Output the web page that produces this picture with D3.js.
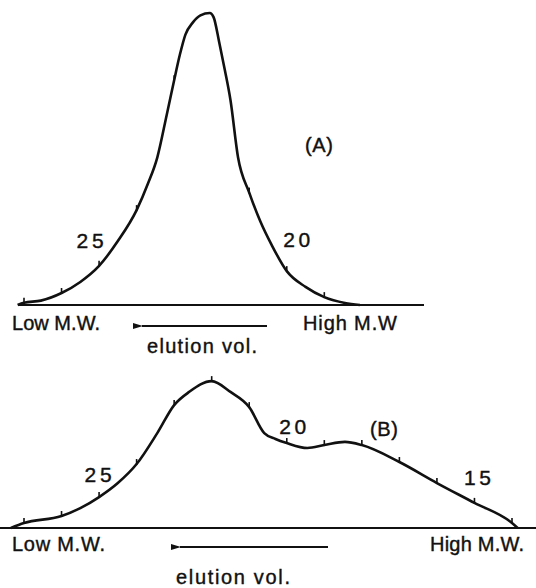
<!DOCTYPE html>
<html>
<head>
<meta charset="utf-8">
<script src="https://cdn.jsdelivr.net/npm/d3@7"></script>
<style>
  html, body { margin: 0; padding: 0; background: #fff; }
  svg { display: block; }
  text { font-family: "Liberation Sans", Arial, sans-serif; fill: #111; stroke: #111; stroke-width: 0.4px; }
</style>
</head>
<body>
<div id="chart"></div>
<script>
// Fraction numbers (x) and relative absorbance (y, peak of A = 100)
const fracA = [27.17, 27, 26.55, 26, 25.5, 25, 24.5, 24, 23.7, 23.45, 23.2, 23, 22.85, 22.7, 22.5, 22.3, 22.05,
  21.95, 21.8, 21.65, 21.5, 21.3, 21, 20.7, 20.4, 20, 19.5, 19, 18.45, 18.05];
const absA = [0, 0.8, 1.5, 4.1, 7.9, 13.4, 21.9, 32.5, 41.5, 50.5, 65, 77, 85.6, 92.6, 96.8, 99.2, 100,
  98.6, 90, 80.5, 70.2, 50.7, 38.5, 28.5, 20.5, 11.6, 6.2, 2.7, 0.7, 0];

const fracB = [27.35, 27, 26, 25.5, 25, 24.5, 24, 23.45, 23, 22.6, 22, 21.5, 21, 20.6, 20.3, 20, 19.45, 19,
  18.45, 18, 17, 16, 15, 14, 13.85];
const absB = [0, 1.7, 4.1, 6.8, 10.6, 15.4, 21.9, 32.5, 42.1, 46.6, 50.3, 46.6, 41.4, 32.5, 30.5, 29.1, 27.4, 28.4,
  29.5, 28.4, 22.6, 15.4, 8.6, 1.7, 0];

// Fractions that carry a number on the curve
const labelFracA = [25, 20];
const labelFracB = [25, 20, 15];

const width = 536, height = 588;

const svg = d3.select("#chart").append("svg")
  .attr("width", width)
  .attr("height", height);

svg.append("rect").attr("width", width).attr("height", height).attr("fill", "#fff");

// Elution runs right to left: high fraction numbers on the left
const x = d3.scaleLinear().domain([27, 14]).range([24, 512]);
const yA = d3.scaleLinear().domain([0, 100]).range([305, 13]);
const yB = d3.scaleLinear().domain([0, 100]).range([528, 236]);

svg.append("defs").append("marker")
  .attr("id", "head")
  .attr("viewBox", "0 0 10 6")
  .attr("refX", 1).attr("refY", 3)
  .attr("markerWidth", 10).attr("markerHeight", 6)
  .attr("markerUnits", "userSpaceOnUse")
  .attr("orient", "auto-start-reverse")
  .append("path")
  .attr("d", "M0,3 L10,0 L10,6 Z")
  .attr("fill", "#111");

/**
 * Draws one elution profile with its baseline, fraction ticks and captions
 */
function drawPanel(frac, abs, y, labelFrac, opt) {
  const data = frac.map((f, i) => ({ f, v: abs[i] }));
  const g = svg.append("g");

  // baseline
  g.append("line")
    .attr("x1", opt.baseX[0]).attr("x2", opt.baseX[1])
    .attr("y1", y(0)).attr("y2", y(0))
    .attr("stroke", "#111").attr("stroke-width", 2);

  const line = d3.line()
    .x(d => x(d.f))
    .y(d => y(d.v))
    .curve(d3.curveMonotoneX);

  g.append("path")
    .datum(data)
    .attr("d", line)
    .attr("fill", "none")
    .attr("stroke", "#111")
    .attr("stroke-width", 2.6)
    .attr("stroke-linejoin", "round");

  // one tick per collected fraction
  data.filter(d => Number.isInteger(d.f)).forEach(d => {
    g.append("line")
      .attr("x1", x(d.f)).attr("x2", x(d.f))
      .attr("y1", y(d.v) - 5).attr("y2", y(d.v) + 1)
      .attr("stroke", "#111").attr("stroke-width", 1.6);
  });

  labelFrac.forEach((f, i) => {
    const d = data.find(p => p.f === f);
    g.append("text")
      .attr("x", x(d.f) + opt.labelNudge[i][0])
      .attr("y", y(d.v) + opt.labelNudge[i][1])
      .attr("text-anchor", "middle")
      .attr("textLength", 27)
      .style("font-size", "21px")
      .text(f);
  });

  g.append("text")
    .attr("x", opt.tag[0]).attr("y", opt.tag[1])
    .attr("text-anchor", "middle")
    .style("font-size", "20px")
    .attr("textLength", 28)
    .text(opt.tagText);

  const capY = y(0) + opt.capDy;
  g.append("text")
    .attr("x", 12).attr("y", capY)
    .attr("textLength", opt.lowLen)
    .style("font-size", "20px")
    .text("Low M.W.");

  g.append("text")
    .attr("x", opt.highX).attr("y", capY)
    .attr("textLength", 94)
    .style("font-size", "20px")
    .text(opt.highText);

  g.append("line")
    .attr("x1", opt.arrowX[1]).attr("x2", opt.arrowX[0] + 9)
    .attr("y1", capY - 4).attr("y2", capY - 4)
    .attr("stroke", "#111").attr("stroke-width", 2)
    .attr("marker-end", "url(#head)");

  g.append("text")
    .attr("x", opt.elutionX).attr("y", capY + opt.elutionDy)
    .attr("textLength", opt.elutionLen)
    .style("font-size", "20px")
    .text("elution vol.");
}

drawPanel(fracA, absA, yA, labelFracA, {
  baseX: [18, 424],
  labelNudge: [[-9, -18], [10, -24]],
  tag: [319, 152],
  tagText: "(A)",
  capDy: 25,
  lowLen: 88,
  highX: 303,
  highText: "High M.W",
  arrowX: [133, 267],
  elutionX: 147,
  elutionDy: 23,
  elutionLen: 110
});

drawPanel(fracB, absB, yB, labelFracB, {
  baseX: [0, 536],
  labelNudge: [[-1, -15], [6, -9], [3, -18]],
  tag: [384, 436],
  tagText: "(B)",
  capDy: 23,
  lowLen: 93,
  highX: 430,
  highText: "High M.W.",
  arrowX: [171, 328],
  elutionX: 176,
  elutionDy: 33,
  elutionLen: 114
});
</script>
</body>
</html>
